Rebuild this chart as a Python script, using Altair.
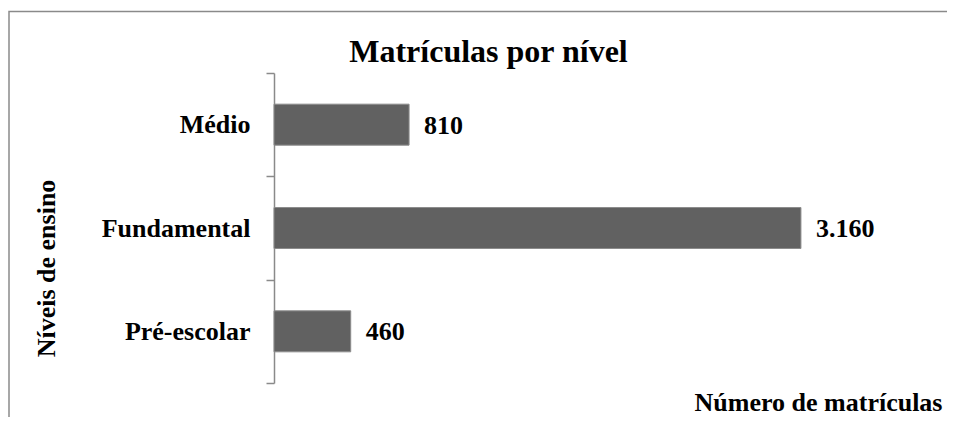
import altair as alt
import pandas as pd

niveis = ["Médio", "Fundamental", "Pré-escolar"]
matriculas = [810, 3160, 460]
titulo = ["Matrículas por nível"]

FONT = "Liberation Serif"

df = pd.DataFrame({"nivel": niveis, "valor": matriculas})

W, H = 667, 310

y_enc = alt.Y(
    "nivel:N",
    sort=niveis,
    scale=alt.Scale(paddingInner=0, paddingOuter=0),
    axis=alt.Axis(
        title="Níveis de ensino",
        titleFont=FONT,
        titleFontSize=26,
        titleFontWeight="bold",
        titleColor="black",
        titleAngle=270,
        titleX=-220,
        titleY=195,
        titleAlign="center",
        titleBaseline="alphabetic",
        labelFont=FONT,
        labelFontSize=26,
        labelFontWeight="bold",
        labelColor="black",
        labelPadding=16,
        tickBand="extent",
        tickSize=8,
        tickColor="#8a8a8a",
        tickWidth=1.5,
        domainColor="#8a8a8a",
        domainWidth=1.5,
        grid=False,
    ),
)

x_enc = alt.X(
    "valor:Q",
    scale=alt.Scale(domain=[0, 4000], nice=False),
    axis=alt.Axis(
        title="Número de matrículas",
        titleFont=FONT,
        titleFontSize=26,
        titleFontWeight="bold",
        titleColor="black",
        titleX=W + 1,
        titleY=27,
        titleAlign="right",
        titleBaseline="alphabetic",
        labels=False,
        ticks=False,
        domain=False,
        grid=False,
    ),
)

bars = alt.Chart(df).mark_bar(
    size=41, color="#616161", stroke="#8c8c8c", strokeWidth=1
).encode(x=x_enc, y=y_enc)

labels = alt.Chart(df).transform_calculate(
    rotulo="replace(format(datum.valor, ','), ',', '.')"
).mark_text(
    align="left", baseline="middle", dx=15, dy=1,
    font=FONT, fontSize=26, fontWeight="bold", color="black"
).encode(
    x=alt.X("valor:Q", scale=alt.Scale(domain=[0, 4000], nice=False)),
    y=alt.Y("nivel:N", sort=niveis),
    text="rotulo:N",
)

frame = alt.Chart(pd.DataFrame({"k": [0]})).mark_rect(
    fill="transparent", stroke="#8a8a8a", strokeWidth=1.5
).encode(
    x=alt.value(-265), x2=alt.value(W + 40),
    y=alt.value(-61.5), y2=alt.value(H + 80),
)

title = alt.Chart(pd.DataFrame({"t": titulo})).mark_text(
    align="center", baseline="alphabetic",
    font=FONT, fontSize=32, fontWeight="bold", color="black"
).encode(
    x=alt.value(214.5), y=alt.value(-11), text="t:N"
)

chart = alt.layer(frame, bars, labels, title).properties(
    width=W,
    height=H,
    autosize=alt.AutoSizeParams(type="none"),
    padding={"left": 266, "top": 65, "right": 6, "bottom": 34},
).configure_view(stroke=None)

chart.save("out.html", embed_options={"renderer": "svg", "actions": False})
